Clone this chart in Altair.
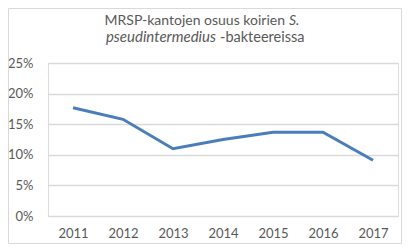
import altair as alt
import pandas as pd

years = ["2011", "2012", "2013", "2014", "2015", "2016", "2017"]
shares = [0.177, 0.158, 0.110, 0.125, 0.137, 0.137, 0.091]
title_line1_normal = "MRSP-kantojen osuus koirien"
title_line1_italic = "S."
title_line2_italic = "pseudintermedius"
title_line2_normal = "-bakteereissa"

df = pd.DataFrame({"year": years, "share": shares})

FONT = "Lato"
GRAY = "#595959"
W, H = 350, 153

base = alt.Chart(df)

line = base.mark_line(color="#4a7ebb", strokeWidth=3).encode(
    x=alt.X("year:O", scale=alt.Scale(type="point", padding=0.5),
            axis=alt.Axis(title=None, labelAngle=0, ticks=False, domain=False,
                          labelFont=FONT, labelFontSize=13, labelColor=GRAY,
                          labelPadding=11)),
    y=alt.Y("share:Q", scale=alt.Scale(domain=[0, 0.25], nice=False),
            axis=alt.Axis(title=None, format=".0%", values=[0, 0.05, 0.1, 0.15, 0.2, 0.25],
                          ticks=False, domain=False, grid=True, gridColor="#d9d9d9",
                          gridWidth=1.3, labelFont=FONT, labelFontSize=13,
                          labelColor=GRAY, labelPadding=15)),
)

one = alt.Data(values=[{}])

def txt(s, x, y, align, italic, size=14.5):
    return alt.Chart(one).mark_text(
        text=s, align=align, baseline="alphabetic", font=FONT, fontSize=size,
        color=GRAY, fontStyle="italic" if italic else "normal",
    ).encode(x=alt.value(x), y=alt.value(y))

t1 = txt(title_line1_normal, 237, -38, "right", False, 14)
t2 = txt(title_line1_italic, 241, -38, "left", True, 14)
t3 = txt(title_line2_italic, 168, -21, "right", True, 15)
t4 = txt(title_line2_normal, 172, -21, "left", False, 14.5)

border = alt.Chart(one).mark_rect(fill=None, stroke="#d9d9d9", strokeWidth=1).encode(
    x=alt.value(-39.5), x2=alt.value(353.5), y=alt.value(-54.5), y2=alt.value(180.5)
)

chart = alt.layer(border, line, t1, t2, t3, t4).properties(
    width=W, height=H,
    autosize=alt.AutoSizeParams(type="none"),
    padding={"left": 40, "top": 55, "right": 4, "bottom": 28},
).configure_view(stroke=None).configure(background="white")

chart.save("out.html", embed_options={"renderer": "svg", "actions": False})
